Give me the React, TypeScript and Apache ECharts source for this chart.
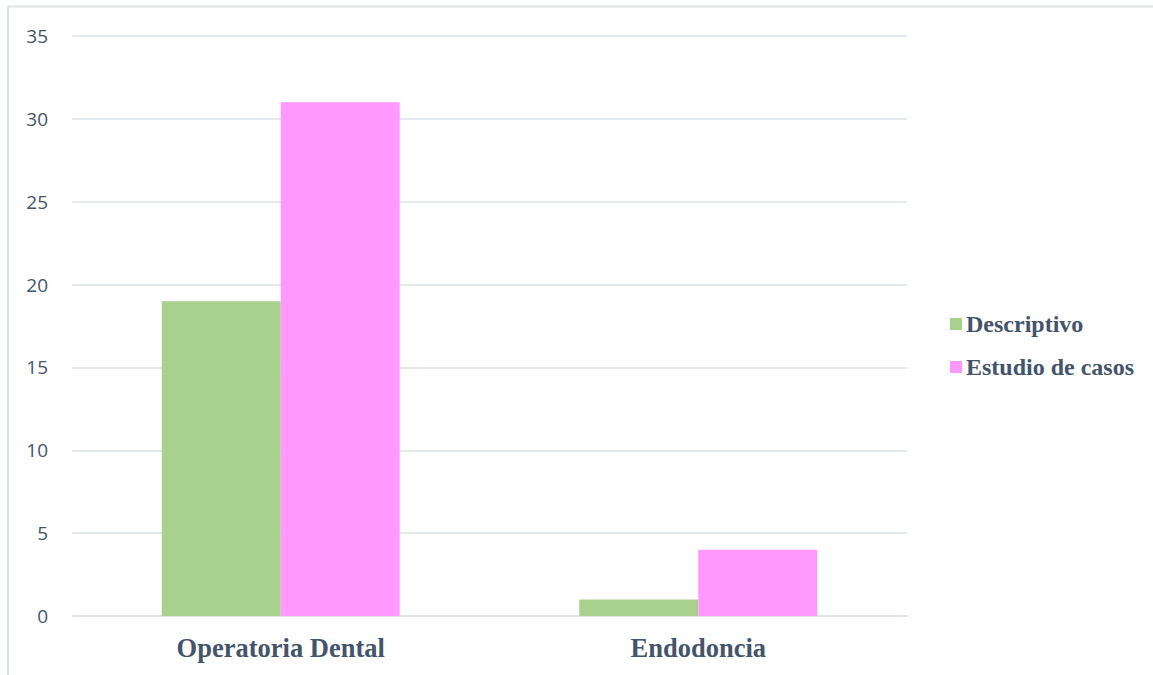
import React, { useEffect, useRef } from "react";
import * as echarts from "echarts";

const categories = ["Operatoria Dental", "Endodoncia"];
const descriptivo = [19, 1];
const estudioCasos = [31, 4];
const seriesNames = ["Descriptivo", "Estudio de casos"];

export default function App() {
  const ref = useRef<HTMLDivElement>(null);
  useEffect(() => {
    const chart = echarts.init(ref.current!, null, { renderer: "svg" });
    chart.setOption({
      animation: false,
      backgroundColor: "#ffffff",
      graphic: [
        {
          type: "rect",
          shape: { x: 8, y: 6.5, width: 1200, height: 720 },
          style: { fill: "none", stroke: "#dde3ea", lineWidth: 2 },
          silent: true,
        },
      ],
      grid: { left: 72, right: 246, top: 36, bottom: 59, containLabel: false },
      legend: {
        orient: "vertical",
        left: 945,
        top: 307,
        itemWidth: 12,
        itemHeight: 12,
        itemGap: 19,
        icon: "rect",
        data: seriesNames,
        textStyle: {
          fontFamily: "Liberation Serif",
          fontWeight: "bold",
          fontSize: 24,
          color: "#44546a",
          padding: [0, 0, 0, -1],
        },
      },
      xAxis: {
        type: "category",
        data: categories,
        axisLine: { show: true, lineStyle: { color: "#dde3ea", width: 1.5 } },
        axisTick: { show: false },
        axisLabel: {
          margin: 18,
          fontFamily: "Liberation Serif",
          fontWeight: "bold",
          fontSize: 26.5,
          color: "#44546a",
        },
      },
      yAxis: {
        type: "value",
        min: 0,
        max: 35,
        interval: 5,
        axisLine: { show: false },
        axisTick: { show: false },
        splitLine: { lineStyle: { color: "#dde3ea", width: 1.5 } },
        axisLabel: {
          margin: 24,
          fontFamily: "Open Sans",
          fontSize: 19,
          color: "#44546a",
        },
      },
      series: [
        {
          name: seriesNames[0],
          type: "bar",
          data: descriptivo,
          itemStyle: { color: "#a9d18e" },
          barGap: "0%",
          barCategoryGap: "43%",
        },
        {
          name: seriesNames[1],
          type: "bar",
          data: estudioCasos,
          itemStyle: { color: "#ff99ff" },
          barGap: "0%",
          barCategoryGap: "43%",
        },
      ],
    });
    return () => chart.dispose();
  }, []);
  return (
    <div
      ref={ref}
      style={{ position: "absolute", left: 0, top: 0, width: 1153, height: 675 }}
    />
  );
}
